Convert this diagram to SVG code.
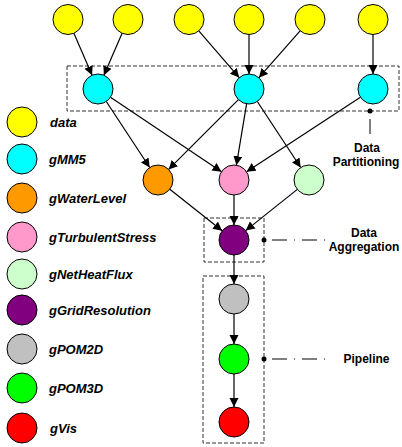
<svg xmlns="http://www.w3.org/2000/svg" width="402" height="447" viewBox="0 0 402 447">
<style>
  .n{stroke:#000;stroke-width:1}
  .box{fill:none;stroke:#333;stroke-width:1;stroke-dasharray:4,2}
  .e{stroke:#000;stroke-width:1.2;fill:none;marker-end:url(#arr)}
  .dd{stroke:#000;stroke-width:1;fill:none;stroke-dasharray:1,7,15,7}
  .lg{font-family:"Liberation Sans",Arial,sans-serif;font-size:13px;font-weight:bold;font-style:italic;fill:#000}
  .lb{font-family:"Liberation Sans",Arial,sans-serif;font-size:12px;font-weight:bold;fill:#000;text-anchor:middle}
</style>
<defs>
  <marker id="arr" markerUnits="userSpaceOnUse" markerWidth="10" markerHeight="10" refX="9" refY="4.5" orient="auto">
    <path d="M0,0 L9,4.5 L0,9 z" fill="#000"/>
  </marker>
</defs>
<g id="boxes">
  <rect class="box" x="67" y="66" width="332" height="45"/>
  <rect class="box" x="204" y="218" width="60" height="44"/>
  <rect class="box" x="203" y="276" width="61" height="167"/>
</g>
<g id="connectors">
  <line class="e" x1="73.9" y1="33.3" x2="92.1" y2="75.2"/>
  <line class="e" x1="122.1" y1="33.3" x2="103.9" y2="75.2"/>
  <line class="e" x1="198.8" y1="30.9" x2="239.2" y2="77.6"/>
  <line class="e" x1="249" y1="34.5" x2="249" y2="74"/>
  <line class="e" x1="300.1" y1="30.8" x2="258.9" y2="77.7"/>
  <line class="e" x1="373" y1="34.5" x2="373" y2="74"/>
  <line class="e" x1="106.3" y1="101.5" x2="149.7" y2="167.5"/>
  <line class="e" x1="110.5" y1="97.3" x2="221.5" y2="171.7"/>
  <line class="e" x1="238.4" y1="99.6" x2="168.6" y2="169.4"/>
  <line class="e" x1="246.6" y1="103.8" x2="236.4" y2="165.2"/>
  <line class="e" x1="257.3" y1="101.5" x2="300.7" y2="167.5"/>
  <line class="e" x1="360.4" y1="97.2" x2="246.6" y2="171.8"/>
  <line class="e" x1="169.8" y1="189.3" x2="222.2" y2="230.7"/>
  <line class="e" x1="234" y1="195" x2="234" y2="225"/>
  <line class="e" x1="297.3" y1="189.4" x2="245.7" y2="230.6"/>
  <line class="e" x1="234" y1="255" x2="234" y2="284"/>
  <line class="e" x1="234" y1="314" x2="234" y2="344"/>
  <line class="e" x1="234" y1="374" x2="234" y2="407"/>
</g>
<g id="callouts">
  <circle cx="370" cy="111" r="2.5" fill="#000"/>
  <line class="dd" x1="370" y1="111" x2="370" y2="136"/>
  <circle cx="264" cy="240" r="2.5" fill="#000"/>
  <line class="dd" x1="264" y1="240" x2="325" y2="240"/>
  <circle cx="264" cy="359" r="2.5" fill="#000"/>
  <line class="dd" x1="264" y1="359" x2="326" y2="359"/>
  <text class="lb" x="367" y="152">Data</text>
  <text class="lb" x="366" y="166">Partitioning</text>
  <text class="lb" x="364" y="237">Data</text>
  <text class="lb" x="364" y="251">Aggregation</text>
  <text class="lb" x="366.5" y="363">Pipeline</text>
</g>
<g id="data1"><circle class="n" cx="68" cy="19.5" r="15" fill="#FFFF00"/></g>
<g id="data2"><circle class="n" cx="128" cy="19.5" r="15" fill="#FFFF00"/></g>
<g id="data3"><circle class="n" cx="189" cy="19.5" r="15" fill="#FFFF00"/></g>
<g id="data4"><circle class="n" cx="249" cy="19.5" r="15" fill="#FFFF00"/></g>
<g id="data5"><circle class="n" cx="310" cy="19.5" r="15" fill="#FFFF00"/></g>
<g id="data6"><circle class="n" cx="373" cy="19.5" r="15" fill="#FFFF00"/></g>
<g id="gMM5_1"><circle class="n" cx="98" cy="89" r="15" fill="#00FFFF"/></g>
<g id="gMM5_2"><circle class="n" cx="249" cy="89" r="15" fill="#00FFFF"/></g>
<g id="gMM5_3"><circle class="n" cx="373" cy="89" r="15" fill="#00FFFF"/></g>
<g id="gWaterLevel"><circle class="n" cx="158" cy="180" r="15" fill="#FF9900"/></g>
<g id="gTurbulentStress"><circle class="n" cx="234" cy="180" r="15" fill="#FF99CC"/></g>
<g id="gNetHeatFlux"><circle class="n" cx="309" cy="180" r="15" fill="#CCFFCC"/></g>
<g id="gGridResolution"><circle class="n" cx="234" cy="240" r="15" fill="#800080"/></g>
<g id="gPOM2D"><circle class="n" cx="234" cy="299" r="15" fill="#C0C0C0"/></g>
<g id="gPOM3D"><circle class="n" cx="234" cy="359" r="15" fill="#00FF00"/></g>
<g id="gVis"><circle class="n" cx="234" cy="422" r="15" fill="#FF0000"/></g>
<g id="legend">
  <circle class="n" cx="22" cy="122" r="15" fill="#FFFF00"/><text class="lg" x="50" y="126.5">data</text>
  <circle class="n" cx="22" cy="159" r="15" fill="#00FFFF"/><text class="lg" x="49" y="163.5">gMM5</text>
  <circle class="n" cx="22" cy="198" r="15" fill="#FF9900"/><text class="lg" x="49" y="202.5">gWaterLevel</text>
  <circle class="n" cx="22" cy="237" r="15" fill="#FF99CC"/><text class="lg" x="49" y="241.5">gTurbulentStress</text>
  <circle class="n" cx="22" cy="274" r="15" fill="#CCFFCC"/><text class="lg" x="49" y="278.5">gNetHeatFlux</text>
  <circle class="n" cx="22" cy="310" r="15" fill="#800080"/><text class="lg" x="49" y="314.5">gGridResolution</text>
  <circle class="n" cx="22" cy="349" r="15" fill="#C0C0C0"/><text class="lg" x="49" y="353.5">gPOM2D</text>
  <circle class="n" cx="22" cy="388" r="15" fill="#00FF00"/><text class="lg" x="49" y="392.5">gPOM3D</text>
  <circle class="n" cx="22" cy="428" r="15" fill="#FF0000"/><text class="lg" x="50" y="432.5">gVis</text>
</g>
</svg>
